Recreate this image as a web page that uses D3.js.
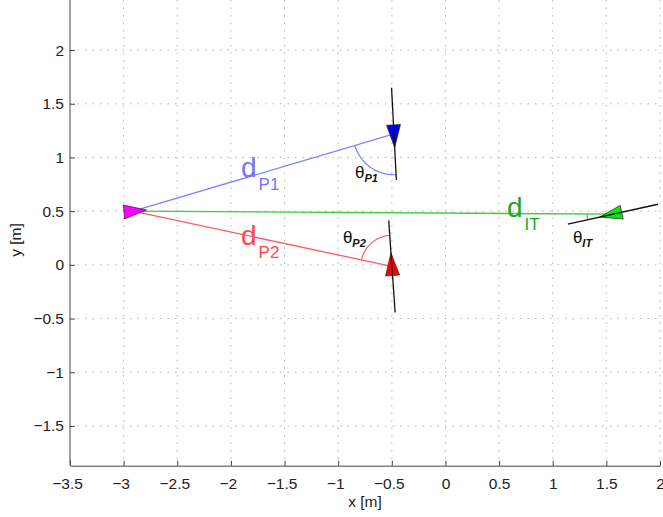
<!DOCTYPE html>
<html lang="en">
<head>
<meta charset="UTF-8">
<title>Geometry</title>
<script src="https://cdn.jsdelivr.net/npm/d3@7"></script>
<style>
  body { margin: 0; background: #fff; }
  text { font-family: "Liberation Sans", Arial, sans-serif; }
</style>
</head>
<body>
<svg width="663" height="517"></svg>
<script>
// ticks
const xTicks = [-3.5, -3, -2.5, -2, -1.5, -1, -0.5, 0, 0.5, 1, 1.5, 2];
const yTicks = [-1.5, -1, -0.5, 0, 0.5, 1, 1.5, 2];

// nodes: name, x, y, heading (deg)
const nodeNames = ['I', 'P1', 'P2', 'T'];
const nodeX = [-2.913, -0.48, -0.499, 1.561];
const nodeY = [0.50, 1.219, -0.015, 0.472];
const nodeHeading = [5, -87, 94, 192.4];

// distances drawn from I to each other node
const linkTargets = ['P1', 'T', 'P2'];

// label positions (data coords)
const dLabels = [['P1', -1.906, 0.816], ['P2', -1.906, 0.183], ['IT', 0.573, 0.444]];
const thLabels = [['P1', -0.844, 0.807], ['P2', -0.956, 0.201], ['IT', 1.188, 0.201]];

const colors = { I: '#ff00ff', P1: '#0000ff', P2: '#ff0000', T: '#00ee00' };
const lineColors = { P1: '#7f7fff', P2: '#ff5c5c', T: '#3ccc3c', IT: '#3ccc3c' };
const textColors = { P1: '#7474ff', P2: '#ff4a4a', IT: '#22a622' };

let svg = d3.select('svg');
let x = d3.scaleLinear().domain([-3.5, 2]).range([70, 660]);
let y = d3.scaleLinear().domain([-1.87, 2.466]).range([465.7, 0]);

let node = {};
nodeNames.forEach((n, i) => node[n] = { x: nodeX[i], y: nodeY[i], h: nodeHeading[i] });

// grid
svg.append('g').selectAll('line').data(xTicks.slice(1)).enter().append('line')
    .attr('x1', d => x(d)).attr('x2', d => x(d)).attr('y1', 0).attr('y2', y(-1.87))
    .attr('stroke', '#b4b4b4').attr('stroke-dasharray', '1.5,6');
svg.append('g').selectAll('line').data(yTicks).enter().append('line')
    .attr('x1', x(-3.5)).attr('x2', 663).attr('y1', d => y(d)).attr('y2', d => y(d))
    .attr('stroke', '#b4b4b4').attr('stroke-dasharray', '1.5,6');

// axes
let fmt = d => d3.format('')(d).replace('-', '\u2212');
let xa = svg.append('g').attr('transform', 'translate(0,' + y(-1.87) + ')')
    .call(d3.axisBottom(x).tickValues(xTicks).tickSizeInner(-5).tickSizeOuter(0).tickPadding(12).tickFormat(fmt));
let ya = svg.append('g').attr('transform', 'translate(' + x(-3.5) + ',0)')
    .call(d3.axisLeft(y).tickValues(yTicks).tickSizeInner(-5).tickSizeOuter(0).tickPadding(6).tickFormat(fmt));
[xa, ya].forEach(a => {
    a.select('.domain').attr('stroke', '#444');
    a.selectAll('.tick line').attr('stroke', '#444');
    a.selectAll('text').attr('font-size', 15.5).attr('fill', '#222')
        .attr('font-family', '"Liberation Sans", Arial, sans-serif');
});
ya.select('.domain').attr('d', 'M0,0V' + y(-1.87));
xa.selectAll('.tick text').attr('dx', d => d < 0 ? -3 : 0);

svg.append('text').attr('x', 365).attr('y', 507).attr('text-anchor', 'middle')
    .attr('font-size', 15.5).attr('fill', '#222').text('x [m]');
svg.append('text').attr('transform', 'translate(21,240) rotate(-90)').attr('text-anchor', 'middle')
    .attr('font-size', 15.5).attr('fill', '#222').text('y [m]');

// distance lines
linkTargets.forEach(t => {
    svg.append('line')
        .attr('x1', x(node.I.x)).attr('y1', y(node.I.y))
        .attr('x2', x(node[t].x)).attr('y2', y(node[t].y))
        .attr('stroke', lineColors[t]).attr('stroke-width', 1.3);
});

// angle arcs
const rad = Math.PI / 180;
function arcPts(n, r) {
    let a1 = n.h;
    let a2 = Math.atan2(node.I.y - n.y, node.I.x - n.x) / rad;
    let diff = ((a2 - a1 + 540) % 360) - 180;
    return d3.range(0, 31).map(k => {
        let a = (a1 + diff * k / 30) * rad;
        return [x(n.x + r * Math.cos(a)), y(n.y + r * Math.sin(a))];
    });
}
let lineGen = d3.line();
[['P1', 0.38], ['P2', 0.29], ['T', 0.24]].forEach(([n, r]) => {
    svg.append('path').attr('d', lineGen(arcPts(node[n], r)))
        .attr('fill', 'none').attr('stroke', lineColors[n]).attr('stroke-width', 1.2);
});

// triangles
const triH = 0.21, triW = 0.13;
nodeNames.forEach(n => {
    let d = node[n], a = d.h * rad;
    let ux = Math.cos(a), uy = Math.sin(a), px = -uy, py = ux;
    let pts = [
        [d.x + 0.6 * triH * ux, d.y + 0.6 * triH * uy],
        [d.x - 0.4 * triH * ux + triW / 2 * px, d.y - 0.4 * triH * uy + triW / 2 * py],
        [d.x - 0.4 * triH * ux - triW / 2 * px, d.y - 0.4 * triH * uy - triW / 2 * py]
    ];
    svg.append('path').attr('d', lineGen(pts.map(p => [x(p[0]), y(p[1])])) + 'Z')
        .attr('fill', colors[n]).attr('stroke', '#222').attr('stroke-width', 0.7);
});

// heading lines
['P1', 'P2', 'T'].forEach(n => {
    let d = node[n], a = d.h * rad, L = 0.43;
    svg.append('line')
        .attr('x1', x(d.x - L * Math.cos(a))).attr('y1', y(d.y - L * Math.sin(a)))
        .attr('x2', x(d.x + L * Math.cos(a))).attr('y2', y(d.y + L * Math.sin(a)))
        .attr('stroke', '#111').attr('stroke-width', 1.3);
});

// labels
dLabels.forEach(([s, lx, ly]) => {
    let t = svg.append('text').attr('x', x(lx)).attr('y', y(ly)).attr('fill', textColors[s]);
    t.append('tspan').attr('font-size', 28).text('d');
    t.append('tspan').attr('font-size', 17).attr('dx', 2).attr('dy', 12.5).text(s);
});
thLabels.forEach(([s, lx, ly]) => {
    let t = svg.append('text').attr('x', x(lx)).attr('y', y(ly)).attr('fill', '#111')
        .attr('font-family', '"Liberation Serif", "Times New Roman", serif');
    t.append('tspan').attr('font-size', 17).text('\u03b8');
    t.append('tspan').attr('font-size', 11).attr('font-style', 'italic').attr('font-weight', 'bold')
        .attr('dy', 4).text(s);
});
</script>
</body>
</html>
